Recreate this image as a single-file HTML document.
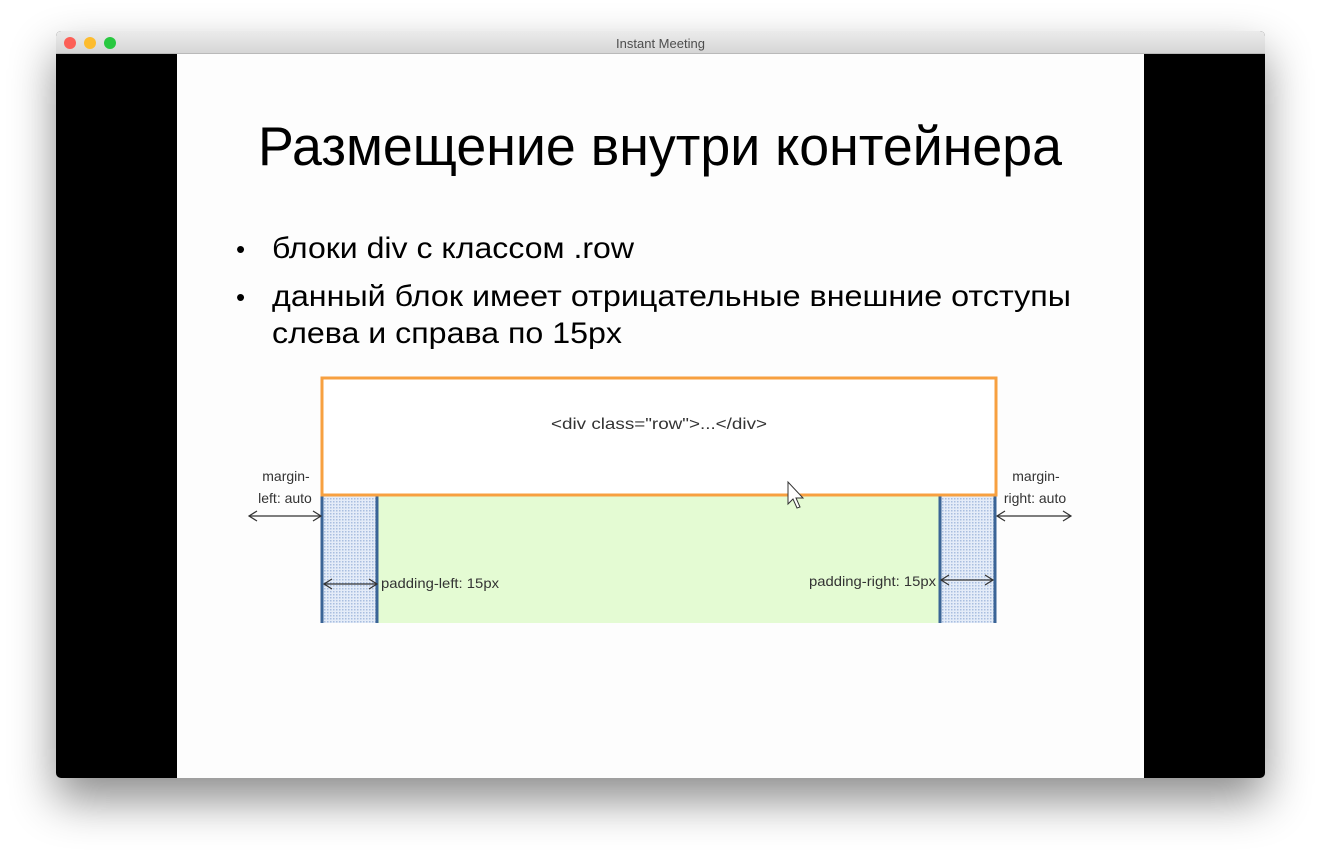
<!DOCTYPE html>
<html><head><meta charset="utf-8"><style>
html,body{margin:0;padding:0;background:#fff;}
body{width:1321px;height:859px;position:relative;overflow:hidden;font-family:"Liberation Sans",sans-serif;}
</style></head><body>
<div style="position:absolute;left:56px;top:31px;width:1209px;height:747px;border-radius:5px;box-shadow:0 22px 45px rgba(0,0,0,0.45);background:#000;overflow:hidden;">
 <div style="position:absolute;left:0;top:0;width:1209px;height:23px;background:linear-gradient(#ebebeb,#d6d6d6);border-bottom:1px solid #b9b9b9;box-sizing:border-box;">
  <div style="position:absolute;left:8px;top:6px;width:12px;height:12px;border-radius:50%;background:#fc5f57;"></div>
  <div style="position:absolute;left:28px;top:6px;width:12px;height:12px;border-radius:50%;background:#fdbc2e;"></div>
  <div style="position:absolute;left:48px;top:6px;width:12px;height:12px;border-radius:50%;background:#28c840;"></div>
  <div style="position:absolute;left:0;width:1209px;top:5px;text-align:center;font-size:13px;color:#4d4d4d;">Instant Meeting</div>
 </div>
 <div style="position:absolute;left:121px;top:23px;width:967px;height:724px;background:#fdfdfd;"></div>
</div>
<svg width="1321" height="859" style="position:absolute;left:0;top:0" xmlns="http://www.w3.org/2000/svg">
 <defs>
  <pattern id="p" width="3" height="3" patternUnits="userSpaceOnUse"><rect width="3" height="3" fill="#e4ecf8"/><rect width="1.5" height="1.5" fill="#a9bedf"/></pattern>
 </defs>
 <g font-family="Liberation Sans, sans-serif" fill="#000">
  <text x="258" y="165" font-size="55" textLength="804" lengthAdjust="spacingAndGlyphs">Размещение внутри контейнера</text>
  <text x="236" y="258" font-size="26">•</text>
  <text x="272" y="258" font-size="30" textLength="362" lengthAdjust="spacingAndGlyphs">блоки div с классом .row</text>
  <text x="236" y="306" font-size="26">•</text>
  <text x="272" y="306" font-size="30" textLength="799" lengthAdjust="spacingAndGlyphs">данный блок имеет отрицательные внешние отступы</text>
  <text x="272" y="343" font-size="30" textLength="350" lengthAdjust="spacingAndGlyphs">слева и справа по 15px</text>
 </g>
 <rect x="378" y="495" width="562" height="128" fill="#e4fbd3"/>
 <rect x="322" y="495" width="55" height="128" fill="url(#p)"/>
 <rect x="940" y="495" width="55" height="128" fill="url(#p)"/>
 <g stroke="#3a6496" stroke-width="3">
  <line x1="322" y1="495" x2="322" y2="623"/><line x1="377" y1="495" x2="377" y2="623"/>
  <line x1="940" y1="495" x2="940" y2="623"/><line x1="995" y1="495" x2="995" y2="623"/>
 </g>
 <rect x="322" y="378" width="674" height="117" fill="#fff" stroke="#f7a040" stroke-width="3"/>
 <g font-family="Liberation Sans, sans-serif" fill="#333">
  <text x="551" y="429" font-size="16" textLength="216" lengthAdjust="spacingAndGlyphs">&lt;div class="row"&gt;...&lt;/div&gt;</text>
  <text x="286" y="481" font-size="14" text-anchor="middle">margin-</text>
  <text x="285" y="503" font-size="14" text-anchor="middle">left: auto</text>
  <text x="1036" y="481" font-size="14" text-anchor="middle">margin-</text>
  <text x="1035" y="503" font-size="14" text-anchor="middle">right: auto</text>
  <text x="381" y="588" font-size="14" textLength="118" lengthAdjust="spacingAndGlyphs">padding-left:  15px</text>
  <text x="809" y="586" font-size="14" textLength="127" lengthAdjust="spacingAndGlyphs">padding-right:  15px</text>
 </g>
 <g stroke="#333" stroke-width="1.2" fill="none">
  <line x1="249" y1="516" x2="321" y2="516"/><path d="M257 511 L249 516 L257 521 M313 511 L321 516 L313 521"/>
  <line x1="997" y1="516" x2="1071" y2="516"/><path d="M1005 511 L997 516 L1005 521 M1063 511 L1071 516 L1063 521"/>
  <line x1="324" y1="584" x2="377" y2="584"/><path d="M332 579 L324 584 L332 589 M369 579 L377 584 L369 589"/>
  <line x1="941" y1="580" x2="993" y2="580"/><path d="M949 575 L941 580 L949 585 M985 575 L993 580 L985 585"/>
 </g>
 <path d="M788 482 L788 504 L793 499 L797 508 L800 507 L796 498 L803 498 Z" fill="#fff" stroke="#333" stroke-width="1"/>
</svg>
</body></html>
